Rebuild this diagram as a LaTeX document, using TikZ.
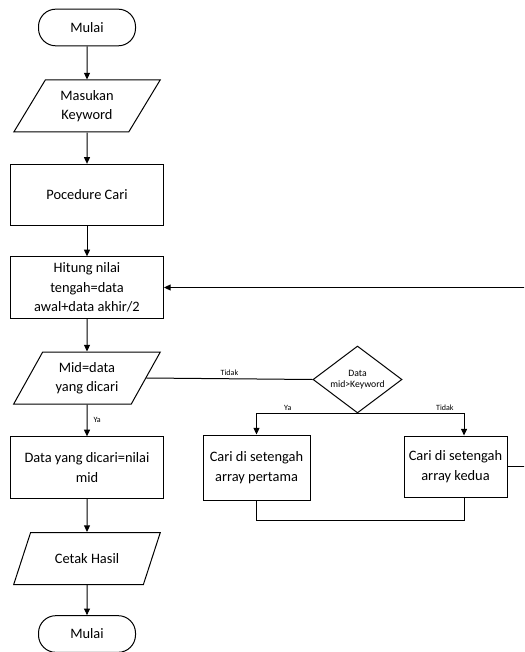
\documentclass[tikz,border=0pt]{standalone}
\usepackage{fontspec}
\setmainfont{Carlito}
\usetikzlibrary{shapes.geometric,arrows.meta}

\begin{document}
\begin{tikzpicture}[x=0.75pt,y=-0.75pt,line width=0.75pt,
    every node/.style={font=\fontsize{10.8}{14.5}\selectfont,align=center},
    term/.style={draw,rounded corners=13pt,minimum width=72.75pt,minimum height=27.5pt},
    proc/.style={draw,inner sep=2pt,minimum width=114.75pt,minimum height=46pt},
    io/.style={draw,trapezium,trapezium left angle=60,trapezium right angle=120,trapezium stretches=true,minimum width=110.25pt,minimum height=39pt},
    keputusan/.style={draw,diamond,aspect=1.33,inner sep=0pt,minimum width=66.75pt,minimum height=50.25pt,font=\fontsize{7.3}{8.3}\selectfont},
    arus/.style={-{Triangle[length=5pt,width=4.5pt]}},
    ket/.style={font=\fontsize{6}{7}\selectfont,inner sep=0pt}]
        \useasboundingbox (0,0) rectangle (524,652);
        %\draw[step=20,gray,very thin] (0,0) grid (524,652);
        \node[term] (mulai) at (87,27.5) {Mulai};
        \node[io] (input) at (87,106) {Masukan\\Keyword};
        \node[proc] (cari) at (87,195) {Pocedure Cari};
        \node[proc] (hitung) at (87,287.5) {Hitung nilai\\tengah=data\\awal+data akhir/2};
        \node[io] (mid) at (87,378) {Mid=data\\yang dicari};
        \node[keputusan] (cek) at (357.5,379.5) {Data\\mid>Keyword};
        \node[proc,minimum width=80.25pt,minimum height=48.75pt] (kiri) at (256.5,467.5) {Cari di setengah\\array pertama};
        \node[proc,minimum width=77.25pt,minimum height=45.75pt] (kanan) at (455.5,466.5) {Cari di setengah\\array kedua};
        \node[proc] (hasil) at (87,467.5) {Data yang dicari=nilai\\mid};
        \node[io] (cetak) at (87,558.5) {Cetak Hasil};
        \node[term] (selesai) at (87,634) {Mulai};
        \draw[arus] (mulai) -- (input);
        \draw[arus] (input) -- (cari);
        \draw[arus] (cari) -- (hitung);
        \draw[arus] (hitung) -- (mid);
        \draw[arus] (mid) -- node[ket,right=4.5pt]{Ya} (hasil);
        \draw[arus] (hasil) -- (cetak);
        \draw[arus] (cetak) -- (selesai);
        \draw (mid.east) -- node[ket,above=2pt]{Tidak} (cek.west);
        \draw[arus] (cek.south) -| node[ket,above=2pt,pos=0.345]{Ya} (kiri.north);
        \draw[arus] (cek.south) -| node[ket,above=2pt,pos=0.41]{Tidak} ([xshift=6.4pt]kanan.north);
        \draw (kiri.south) -- ++(0,20) -| ([xshift=6.4pt]kanan.south);
        \begin{scope}
          \clip (0,0) rectangle (524,652);
          \draw[arus] (kanan.east) -- ++(30,0) |- (hitung.east);
        \end{scope}
      \end{tikzpicture}
\end{document}
